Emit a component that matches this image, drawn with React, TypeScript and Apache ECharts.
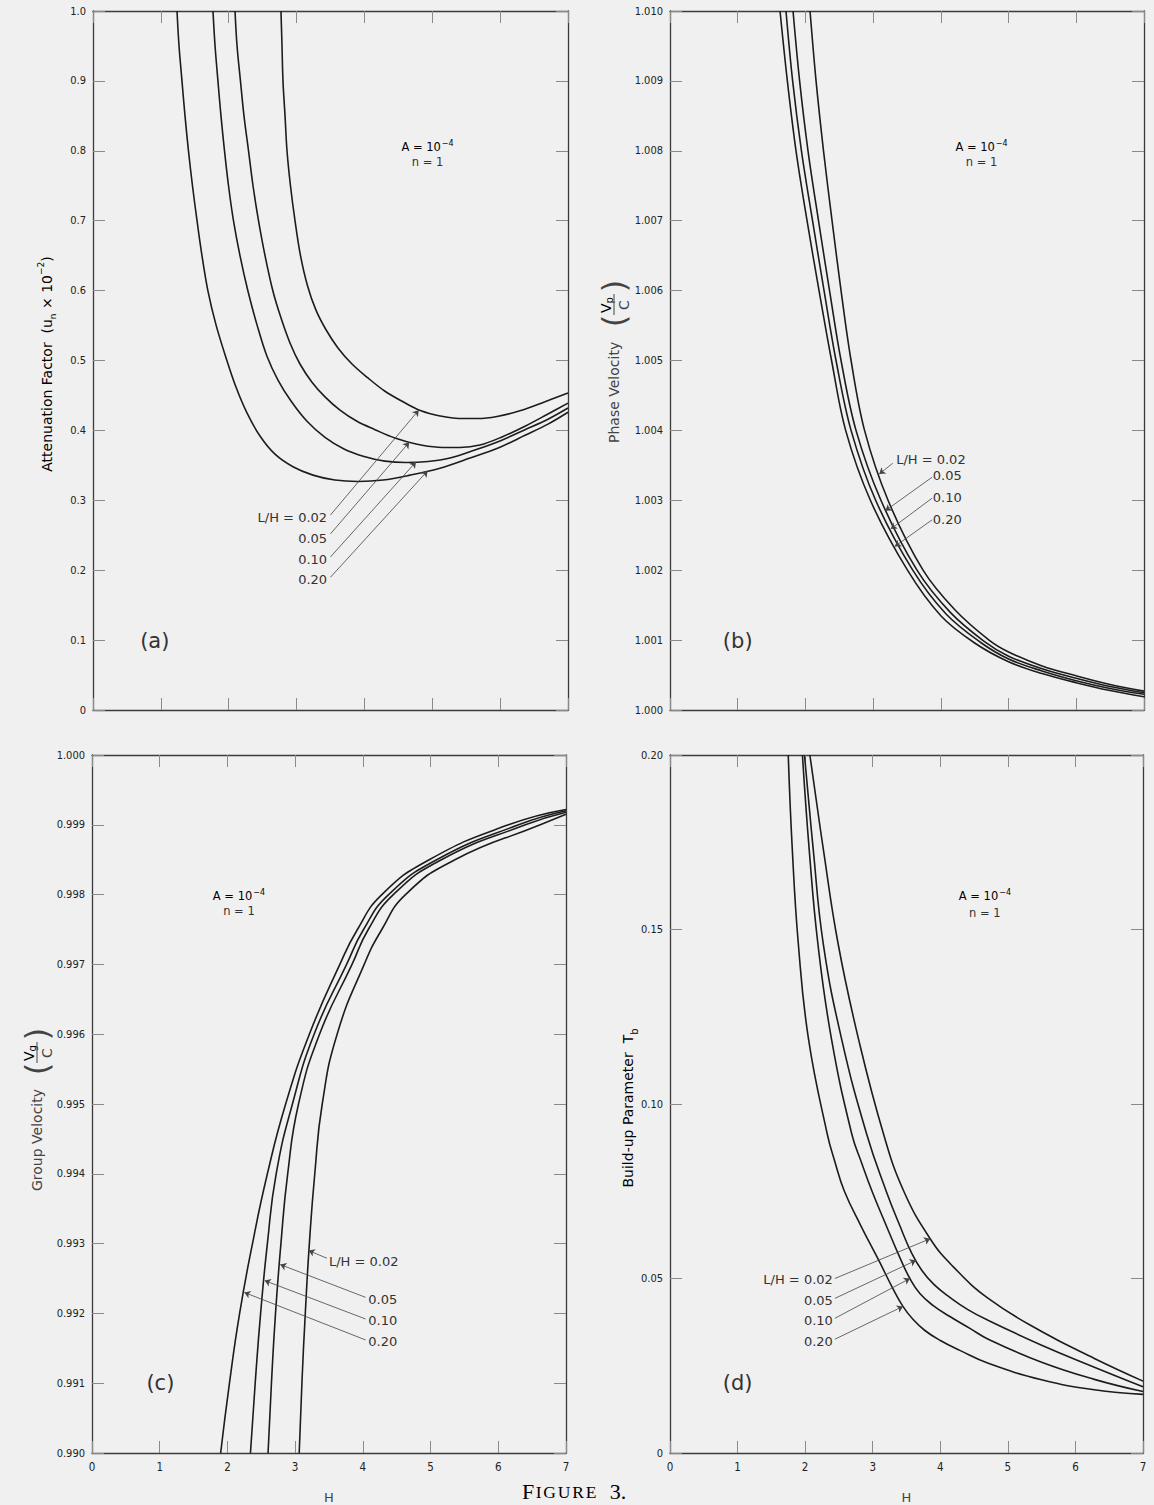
import React, { useEffect, useRef } from "react";
import * as echarts from "echarts";

// ---------- data ----------
const X_TICKS = [0, 1, 2, 3, 4, 5, 6, 7];
const CURVE_NAMES = ["L/H = 0.02", "0.05", "0.10", "0.20"];

// (a) attenuation factor
const A_L002 = [[2.77, 1.0], [2.785, 0.951], [2.8, 0.899], [2.83, 0.85], [2.859, 0.8], [2.91, 0.75], [2.977, 0.7], [3.058, 0.65], [3.161, 0.607], [3.286, 0.572], [3.434, 0.544], [3.61, 0.518], [3.817, 0.495], [4.052, 0.475], [4.303, 0.456], [4.568, 0.441], [4.834, 0.428], [5.114, 0.4206], [5.394, 0.417], [5.674, 0.417], [5.954, 0.42], [6.292, 0.428], [6.661, 0.441], [7.0, 0.4535]];
const A_L005 = [[2.093, 1.0], [2.122, 0.951], [2.174, 0.899], [2.225, 0.85], [2.292, 0.8], [2.358, 0.75], [2.439, 0.7], [2.535, 0.65], [2.652, 0.599], [2.77, 0.561], [2.903, 0.525], [3.05, 0.495], [3.227, 0.469], [3.419, 0.448], [3.64, 0.429], [3.89, 0.413], [4.156, 0.401], [4.45, 0.389], [4.76, 0.3805], [5.084, 0.376], [5.408, 0.3755], [5.703, 0.379], [6.027, 0.3906], [6.366, 0.406], [6.705, 0.4235], [7.0, 0.439]];
const A_L010 = [[1.768, 1.0], [1.798, 0.951], [1.842, 0.899], [1.886, 0.85], [1.938, 0.8], [1.997, 0.75], [2.07, 0.7], [2.166, 0.65], [2.284, 0.599], [2.417, 0.551], [2.564, 0.506], [2.726, 0.472], [2.918, 0.442], [3.154, 0.413], [3.419, 0.39], [3.699, 0.3734], [3.994, 0.3627], [4.303, 0.356], [4.612, 0.354], [4.937, 0.3555], [5.261, 0.3605], [5.629, 0.372], [5.998, 0.385], [6.366, 0.401], [6.705, 0.416], [7.0, 0.432]];
const A_L020 = [[1.238, 1.0], [1.267, 0.951], [1.312, 0.899], [1.356, 0.85], [1.407, 0.8], [1.466, 0.75], [1.533, 0.7], [1.606, 0.65], [1.695, 0.599], [1.813, 0.551], [1.96, 0.504], [2.107, 0.462], [2.269, 0.425], [2.461, 0.392], [2.682, 0.366], [2.947, 0.348], [3.242, 0.336], [3.566, 0.329], [3.905, 0.327], [4.274, 0.329], [4.672, 0.336], [5.113, 0.346], [5.556, 0.3605], [5.998, 0.376], [6.366, 0.393], [6.705, 0.409], [7.0, 0.426]];

// (b) phase velocity
const B_L002 = [[2.068, 1.01], [2.157, 1.009], [2.267, 1.008], [2.393, 1.007], [2.526, 1.006], [2.674, 1.005], [2.873, 1.004], [3.22, 1.003], [3.737, 1.002], [4.21, 1.00143], [4.712, 1.001], [5.0, 1.00083], [5.495, 1.00063], [5.997, 1.00049], [6.499, 1.000365], [7.0, 1.00027]];
const B_L005 = [[1.817, 1.01], [1.914, 1.009], [2.038, 1.008], [2.193, 1.007], [2.356, 1.006], [2.526, 1.005], [2.747, 1.004], [3.115, 1.003], [3.648, 1.002], [4.136, 1.0014], [4.629, 1.00099], [5.0, 1.00077], [5.495, 1.00059], [5.997, 1.000454], [6.499, 1.000336], [7.0, 1.000247]];
const B_L010 = [[1.713, 1.01], [1.811, 1.009], [1.941, 1.008], [2.105, 1.007], [2.275, 1.006], [2.452, 1.005], [2.674, 1.004], [3.037, 1.003], [3.585, 1.002], [4.077, 1.001373], [4.578, 1.000973], [5.0, 1.00073], [5.495, 1.000558], [5.997, 1.000419], [6.499, 1.000308], [7.0, 1.000225]];
const B_L020 = [[1.625, 1.01], [1.733, 1.009], [1.861, 1.008], [2.024, 1.007], [2.201, 1.006], [2.386, 1.005], [2.594, 1.004], [2.959, 1.003], [3.507, 1.002], [4.003, 1.001345], [4.499, 1.000959], [5.0, 1.000691], [5.495, 1.000522], [5.997, 1.000391], [6.499, 1.000279], [7.0, 1.00019]];

// (c) group velocity
const C_L002 = [[3.06, 0.99], [3.1, 0.991], [3.15, 0.992], [3.21, 0.993], [3.29, 0.994], [3.4, 0.995], [3.62, 0.996], [4.02, 0.997], [4.28, 0.9975], [4.63, 0.998], [5.36, 0.9985], [6.62, 0.999], [7.0, 0.99915]];
const C_L005 = [[2.6, 0.99], [2.65, 0.991], [2.71, 0.992], [2.79, 0.993], [2.89, 0.994], [3.05, 0.995], [3.36, 0.996], [3.84, 0.997], [4.08, 0.9975], [4.45, 0.998], [5.16, 0.9985], [6.4, 0.999], [7.0, 0.99918]];
const C_L010 = [[2.34, 0.99], [2.41, 0.991], [2.49, 0.992], [2.59, 0.993], [2.72, 0.994], [2.96, 0.995], [3.28, 0.996], [3.76, 0.997], [4.01, 0.9975], [4.38, 0.998], [5.09, 0.9985], [6.3, 0.999], [7.0, 0.9992]];
const C_L020 = [[1.9, 0.99], [2.03, 0.991], [2.18, 0.992], [2.37, 0.993], [2.59, 0.994], [2.86, 0.995], [3.21, 0.996], [3.66, 0.997], [3.92, 0.9975], [4.28, 0.998], [4.98, 0.9985], [6.15, 0.999], [7.0, 0.99922]];

// (d) build-up parameter
const D_L002 = [[2.07, 0.2], [2.27, 0.1729], [2.49, 0.1457], [2.79, 0.1186], [3.16, 0.0914], [3.46, 0.075], [3.85, 0.0614], [4.19, 0.0534], [4.71, 0.0443], [5.5, 0.0348], [6.28, 0.0271], [7.0, 0.0206]];
const D_L005 = [[1.99, 0.2], [2.12, 0.1729], [2.27, 0.1457], [2.54, 0.1186], [2.91, 0.0914], [3.2, 0.075], [3.402, 0.0651], [3.58, 0.0571], [3.728, 0.0523], [3.905, 0.0483], [4.142, 0.0446], [4.408, 0.0411], [4.71, 0.038], [5.5, 0.0309], [6.28, 0.0246], [7.0, 0.019]];
const D_L010 = [[1.96, 0.2], [2.06, 0.1729], [2.19, 0.1457], [2.39, 0.1186], [2.69, 0.0914], [2.84, 0.0829], [2.99, 0.075], [3.195, 0.0654], [3.402, 0.056], [3.55, 0.05], [3.698, 0.0457], [3.891, 0.0423], [4.142, 0.0391], [4.438, 0.0357], [4.71, 0.0326], [5.5, 0.026], [6.28, 0.0211], [7.0, 0.0176]];
const D_L020 = [[1.75, 0.2], [1.81, 0.1729], [1.9, 0.1457], [2.05, 0.1186], [2.327, 0.0914], [2.441, 0.0834], [2.581, 0.075], [2.825, 0.0651], [3.092, 0.0551], [3.299, 0.0471], [3.447, 0.042], [3.595, 0.0383], [3.772, 0.0351], [3.994, 0.0323], [4.29, 0.0294], [4.71, 0.0257], [5.5, 0.021], [6.28, 0.0181], [7.0, 0.0168]];

// y axes: [min, max, interval, decimals]
const Y_AXES = [
  [0, 1.0, 0.1, 1],
  [1.0, 1.01, 0.001, 3],
  [0.99, 1.0, 0.001, 3],
  [0, 0.2, 0.05, 2],
];

// leader lines (label end -> arrow tip), data coords
const A_LEADERS = [[[3.5, 0.279], [4.8, 0.429]], [[3.5, 0.252], [4.66, 0.383]], [[3.5, 0.219], [4.76, 0.355]], [[3.5, 0.19], [4.93, 0.342]]];
const B_LEADERS = [[[3.29, 1.00353], [3.09, 1.003376]], [[3.87, 1.00333], [3.18, 1.00285]], [[3.87, 1.00303], [3.26, 1.00259]], [[3.87, 1.00272], [3.32, 1.00234]]];
const C_LEADERS = [[[3.47, 0.99279], [3.2, 0.9929]], [[4.04, 0.99223], [2.78, 0.9927]], [[4.04, 0.99192], [2.55, 0.99247]], [[4.04, 0.99162], [2.25, 0.9923]]];
const D_LEADERS = [[[2.44, 0.05], [3.85, 0.0614]], [[2.44, 0.0443], [3.64, 0.0552]], [[2.44, 0.0386], [3.55, 0.05]], [[2.44, 0.0326], [3.447, 0.042]]];

// curve labels: position
const A_LABELS = [[3.45, 0.276], [3.45, 0.246], [3.45, 0.216], [3.45, 0.186]];
const B_LABELS = [[3.34, 1.003577], [3.88, 1.003348], [3.88, 1.003047], [3.88, 1.002732]];
const C_LABELS = [[3.5, 0.99275], [4.08, 0.9922], [4.08, 0.9919], [4.08, 0.9916]];
const D_LABELS = [[2.41, 0.0498], [2.41, 0.0438], [2.41, 0.0379], [2.41, 0.0319]];
const LABEL_ALIGN = ["right", "left", "left", "right"];

const PANEL_TAGS = [["(a)", 0.91, 0.099], ["(b)", 1.0, 1.00099], ["(c)", 1.01, 0.991], ["(d)", 1.0, 0.02]];
const PARAM_NOTES = [[4.93, 0.805, 0.784], [4.6, 1.00805, 1.00784], [2.17, 0.99798, 0.99776], [4.66, 0.1595, 0.1548]];

// ---------- layout / style ----------
const GRIDS = [
  { left: 93, top: 11, width: 475, height: 699 },
  { left: 670, top: 11, width: 474, height: 699 },
  { left: 92, top: 755, width: 474, height: 700 },
  { left: 670, top: 755, width: 473, height: 700 },
];
const SMOOTH = [0.35, 0.35, 0.5, 0.45];
const BG = "#f0f0f0";
const INK = "#1c1c1c";
const LETTER = '"DejaVu Sans", "Noto Sans", sans-serif';
const NARROW = '"Liberation Sans Narrow", "DejaVu Sans Condensed", "Roboto Condensed", sans-serif';
const SERIF = '"Liberation Serif", "DejaVu Serif", serif';

const PANEL_DATA = [
  [A_L002, A_L005, A_L010, A_L020],
  [B_L002, B_L005, B_L010, B_L020],
  [C_L002, C_L005, C_L010, C_L020],
  [D_L002, D_L005, D_L010, D_L020],
];
const LEADERS = [A_LEADERS, B_LEADERS, C_LEADERS, D_LEADERS];
const LABELS = [A_LABELS, B_LABELS, C_LABELS, D_LABELS];

function fmtY(v: number, dec: number) {
  if (Math.abs(v) < 1e-9) return "0";
  return v.toFixed(dec);
}

function buildOption() {
  const xAxis: any[] = [];
  const yAxis: any[] = [];
  const series: any[] = [];
  const tick = { show: true, inside: true, length: 12, lineStyle: { color: "#8a8a8a", width: 1 } };
  const line = { show: true, onZero: false, lineStyle: { color: "#3a3a3a", width: 1.3 } };
  GRIDS.forEach((g, i) => {
    const bottomLabels = i >= 2;
    xAxis.push({
      gridIndex: i, type: "value", min: 0, max: 7, interval: 1, position: "bottom",
      axisLine: line, axisTick: tick, splitLine: { show: false },
      axisLabel: {
        show: bottomLabels, margin: 8, color: "#222", fontFamily: NARROW, fontSize: 11.5,
        formatter: (v: number) => (X_TICKS.includes(Math.round(v)) ? String(Math.round(v)) : ""),
      },
      name: bottomLabels ? "H" : "", nameLocation: "middle", nameGap: 38,
      nameTextStyle: { fontFamily: LETTER, fontSize: 13, color: "#444" },
    });
    xAxis.push({
      gridIndex: i, type: "value", min: 0, max: 7, interval: 1, position: "top",
      axisLine: line, axisTick: tick, splitLine: { show: false }, axisLabel: { show: false },
    });
    const [mn, mx, iv, dec] = Y_AXES[i];
    yAxis.push({
      gridIndex: i, type: "value", min: mn, max: mx, interval: iv, position: "left",
      axisLine: line, axisTick: tick, splitLine: { show: false },
      axisLabel: { show: true, margin: 7, color: "#222", fontFamily: NARROW, fontSize: 11, formatter: (v: number) => fmtY(v, dec) },
    });
    yAxis.push({
      gridIndex: i, type: "value", min: mn, max: mx, interval: iv, position: "right",
      axisLine: line, axisTick: tick, splitLine: { show: false }, axisLabel: { show: false },
    });
    PANEL_DATA[i].forEach((d, k) => {
      const s: any = {
        type: "line", name: CURVE_NAMES[k], xAxisIndex: 2 * i, yAxisIndex: 2 * i,
        data: d, showSymbol: false, smooth: SMOOTH[i], silent: true,
        lineStyle: { color: INK, width: 1.6 },
      };
      if (k === 0) {
        s.markLine = {
          silent: true, symbol: ["none", "arrow"], symbolSize: 6,
          label: { show: false },
          lineStyle: { color: "#444", width: 0.8, type: "solid" },
          emphasis: { disabled: true },
          data: LEADERS[i].map((p) => [{ coord: p[0] }, { coord: p[1] }]),
        };
      }
      series.push(s);
    });
  });
  return {
    animation: false,
    backgroundColor: BG,
    grid: GRIDS.map((g) => ({ ...g, containLabel: false })),
    xAxis, yAxis, series,
  };
}

function richNote() {
  return {
    a: { fontFamily: LETTER, fontSize: 11.5, color: "#333", lineHeight: 15 },
    s: { fontFamily: LETTER, fontSize: 8, color: "#333", verticalAlign: "top", lineHeight: 15, padding: [0, 0, 6, 1] },
  };
}

function fractionName(cx: number, cy: number, word: string, num: string, sub: string, wordStart: number) {
  const f = { fontFamily: LETTER, fontSize: 14, fill: "#444" };
  return {
    type: "group", x: cx, y: cy, rotation: Math.PI / 2, silent: true,
    children: [
      { type: "text", x: wordStart, y: 0, style: { ...f, text: word, align: "left", verticalAlign: "middle" } },
      { type: "text", x: wordStart + 122, y: 0, style: { fontFamily: LETTER, fontSize: 32, fill: "#444", text: "(", align: "center", verticalAlign: "middle" } },
      {
        type: "text", x: wordStart + 138, y: -8,
        style: {
          text: "{v|" + num + "}{s|" + sub + "}", align: "center", verticalAlign: "middle",
          rich: {
            v: { fontFamily: LETTER, fontSize: 14, color: "#444", lineHeight: 16 },
            s: { fontFamily: LETTER, fontSize: 10, color: "#444", verticalAlign: "bottom", lineHeight: 16, padding: [5, 0, 0, 0] },
          },
        },
      },
      { type: "line", shape: { x1: wordStart + 128, y1: 0, x2: wordStart + 149, y2: 0 }, style: { stroke: "#444", lineWidth: 1 } },
      { type: "text", x: wordStart + 138, y: 10, style: { ...f, fontSize: 14, text: "C", align: "center", verticalAlign: "middle" } },
      { type: "text", x: wordStart + 157, y: 0, style: { fontFamily: LETTER, fontSize: 32, fill: "#444", text: ")", align: "center", verticalAlign: "middle" } },
    ],
  };
}

function buildGraphics(chart: any) {
  const g: any[] = [];
  const toPx = (i: number, p: number[]) => chart.convertToPixel({ seriesIndex: 4 * i }, p);
  for (let i = 0; i < 4; i++) {
    LABELS[i].forEach((p, k) => {
      const [x, y] = toPx(i, p);
      g.push({
        type: "text", x, y, silent: true,
        style: { text: CURVE_NAMES[k], fontFamily: LETTER, fontSize: 13, fill: "#333", align: LABEL_ALIGN[i], verticalAlign: "middle" },
      });
    });
    const [tx, ty] = toPx(i, [PANEL_TAGS[i][1] as number, PANEL_TAGS[i][2] as number]);
    g.push({ type: "text", x: tx, y: ty, silent: true, style: { text: PANEL_TAGS[i][0], fontFamily: LETTER, fontSize: 21, fill: "#333", align: "center", verticalAlign: "middle" } });
    const [nx, ny] = toPx(i, [PARAM_NOTES[i][0], PARAM_NOTES[i][1]]);
    const [, ny2] = toPx(i, [PARAM_NOTES[i][0], PARAM_NOTES[i][2]]);
    g.push({ type: "text", x: nx, y: ny, silent: true, style: { text: "{a|A = 10}{s|−4}", rich: richNote(), align: "center", verticalAlign: "middle" } });
    g.push({ type: "text", x: nx, y: ny2, silent: true, style: { text: "n = 1", fontFamily: LETTER, fontSize: 11.5, fill: "#333", align: "center", verticalAlign: "middle" } });
  }
  g.push({
    type: "text", x: 47, y: 364, rotation: Math.PI / 2, silent: true,
    style: {
      text: "{t|Attenuation Factor  (u}{b|n}{t| × 10}{p|−2}{t|)}", align: "center", verticalAlign: "middle",
      rich: {
        t: { fontFamily: LETTER, fontSize: 14, color: "#444", lineHeight: 22 },
        b: { fontFamily: LETTER, fontSize: 9, color: "#444", lineHeight: 22, verticalAlign: "bottom", padding: [0, 0, 1, 0] },
        p: { fontFamily: LETTER, fontSize: 9, color: "#444", lineHeight: 22, verticalAlign: "top" },
      },
    },
  });
  g.push(fractionName(614, 357, "Phase Velocity", "V", "p", -86));
  g.push(fractionName(37, 1105, "Group Velocity", "V", "g", -86));
  g.push({
    type: "text", x: 628, y: 1108, rotation: Math.PI / 2, silent: true,
    style: {
      text: "{t|Build-up Parameter  T}{b|b}", align: "center", verticalAlign: "middle",
      rich: {
        t: { fontFamily: LETTER, fontSize: 14, color: "#444", lineHeight: 22 },
        b: { fontFamily: LETTER, fontSize: 10, color: "#444", lineHeight: 22, verticalAlign: "bottom" },
      },
    },
  });
  const cap = { fontFamily: SERIF, color: "#222", verticalAlign: "bottom", lineHeight: 20 };
  g.push({
    type: "text", x: 522, y: 1492, silent: true,
    style: {
      text: "{f|F}{r|I}{r|G}{r|U}{r|R}{r|E}{g| 3.}", align: "left", verticalAlign: "middle",
      rich: {
        f: { ...cap, fontSize: 22, padding: [0, 1.5, 0, 0] },
        r: { ...cap, fontSize: 17.5, padding: [0, 1.8, 1, 0] },
        g: { ...cap, fontSize: 22, padding: [0, 0, 0, 6] },
      },
    },
  });
  return g;
}

export default function App() {
  const ref = useRef<HTMLDivElement>(null);
  useEffect(() => {
    if (!ref.current) return;
    const chart = echarts.init(ref.current, null, { renderer: "svg" });
    chart.setOption(buildOption() as any);
    chart.setOption({ graphic: buildGraphics(chart) } as any);
    return () => chart.dispose();
  }, []);
  return (
    <div
      ref={ref}
      style={{ position: "absolute", left: 0, top: 0, width: 1154, height: 1505, background: BG }}
    />
  );
}
